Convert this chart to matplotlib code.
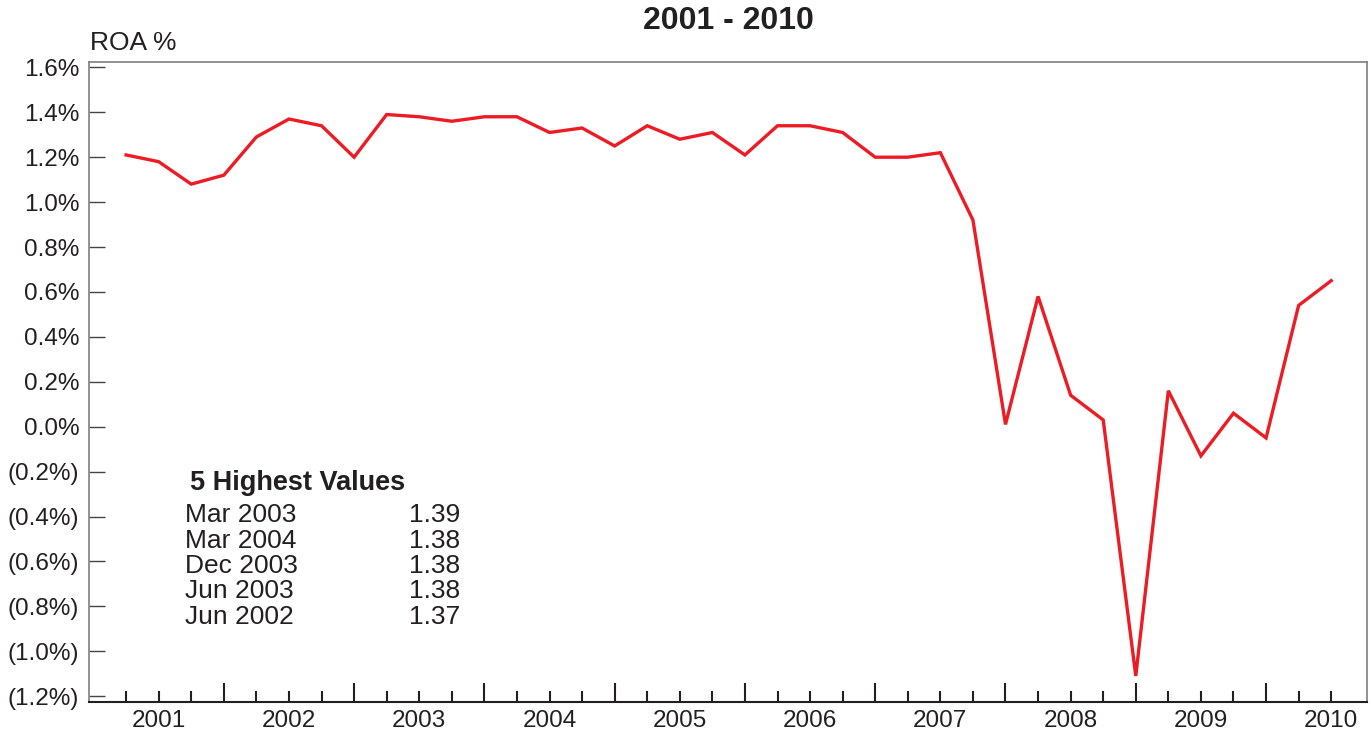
import matplotlib
matplotlib.use("Agg")
import matplotlib.pyplot as plt
from matplotlib.ticker import FuncFormatter, FixedLocator

INK = "#231f20"
RED = "#ed1c24"
FRAME = "#7f7f7f"

# quarterly ROA, Mar 2001 .. Jun 2010
years = list(range(2001, 2011))
months = ["Mar", "Jun", "Sep", "Dec"]
quarters = [f"{m} {y}" for y in years for m in months][:38]
roa = [1.21, 1.18, 1.08, 1.12,
       1.29, 1.37, 1.34, 1.20,
       1.39, 1.38, 1.36, 1.38,
       1.38, 1.31, 1.33, 1.25,
       1.34, 1.28, 1.31, 1.21,
       1.34, 1.34, 1.31, 1.20,
       1.20, 1.22, 0.92, 0.01,
       0.58, 0.14, 0.03, -1.11,
       0.16, -0.13, 0.06, -0.05,
       0.54, 0.65]

top_labels = ["Mar 2003", "Mar 2004", "Dec 2003", "Jun 2003", "Jun 2002"]
top_values = [1.39, 1.38, 1.38, 1.38, 1.37]

y_ticks = [-1.2, -1.0, -0.8, -0.6, -0.4, -0.2, 0.0, 0.2, 0.4, 0.6, 0.8, 1.0, 1.2, 1.4, 1.6]

plt.rcParams["font.family"] = ["Liberation Sans", "DejaVu Sans"]
plt.rcParams["text.color"] = INK

fig = plt.figure(figsize=(13.71, 7.36), dpi=100)
ax = fig.add_axes([0.0649, 0.0462, 0.9322, 0.8696])

x = list(range(len(roa)))
ax.plot(x, roa, color=RED, linewidth=2.4, solid_joinstyle="miter")

ax.set_xlim(-1.14, 38.10)
ax.set_ylim(-1.226, 1.624)

# y axis
ax.set_yticks(y_ticks)
ax.yaxis.set_major_formatter(FuncFormatter(
    lambda v, p: f"({abs(v):.1f}%)" if v < -1e-9 else f"{abs(v):.1f}%"))
ax.tick_params(axis="y", direction="in", length=11.5, width=1.0,
               color="#444444", pad=7, labelsize=17.5, labelcolor=INK)

# x axis: long ticks at Dec, short at other quarters, year label at Jun
major_pos = [i for i, q in enumerate(quarters) if q.startswith("Dec")]
minor_pos = [i for i, q in enumerate(quarters) if not q.startswith("Dec")]
minor_lab = [q.split()[1] if q.startswith("Jun") else "" for q in quarters
             if not q.startswith("Dec")]
ax.xaxis.set_major_locator(FixedLocator(major_pos))
ax.set_xticklabels([""] * len(major_pos))
ax.set_xticks(minor_pos, labels=minor_lab, minor=True)
ax.tick_params(axis="x", which="major", direction="in", length=13.5, width=1.5,
               color=INK)
ax.tick_params(axis="x", which="minor", direction="in", length=8, width=1.5,
               color=INK, pad=6, labelsize=17.5, labelcolor=INK)

for side in ["left", "top", "right"]:
    ax.spines[side].set_color(FRAME)
    ax.spines[side].set_linewidth(1.2)
ax.spines["bottom"].set_color(INK)
ax.spines["bottom"].set_linewidth(1.5)

fig.text(0.531, 0.972, "2001 - 2010", ha="center", va="center",
         fontsize=23, fontweight="bold", color=INK)
fig.text(0.0656, 0.942, "ROA %", ha="left", va="center", fontsize=19, color=INK)

# 5 highest values box
fig.text(190 / 1371, 1 - 483 / 736, "5 Highest Values", ha="left", va="center",
         fontsize=19.5, fontweight="bold", color=INK)
for k, (lab, val) in enumerate(zip(top_labels, top_values)):
    yy = 1 - (515 + k * 25.5) / 736
    fig.text(185 / 1371, yy, lab, ha="left", va="center", fontsize=19, color=INK)
    fig.text(460 / 1371, yy, f"{val:.2f}", ha="right", va="center", fontsize=19, color=INK)

fig.savefig("out.png", dpi=100, facecolor="white")
